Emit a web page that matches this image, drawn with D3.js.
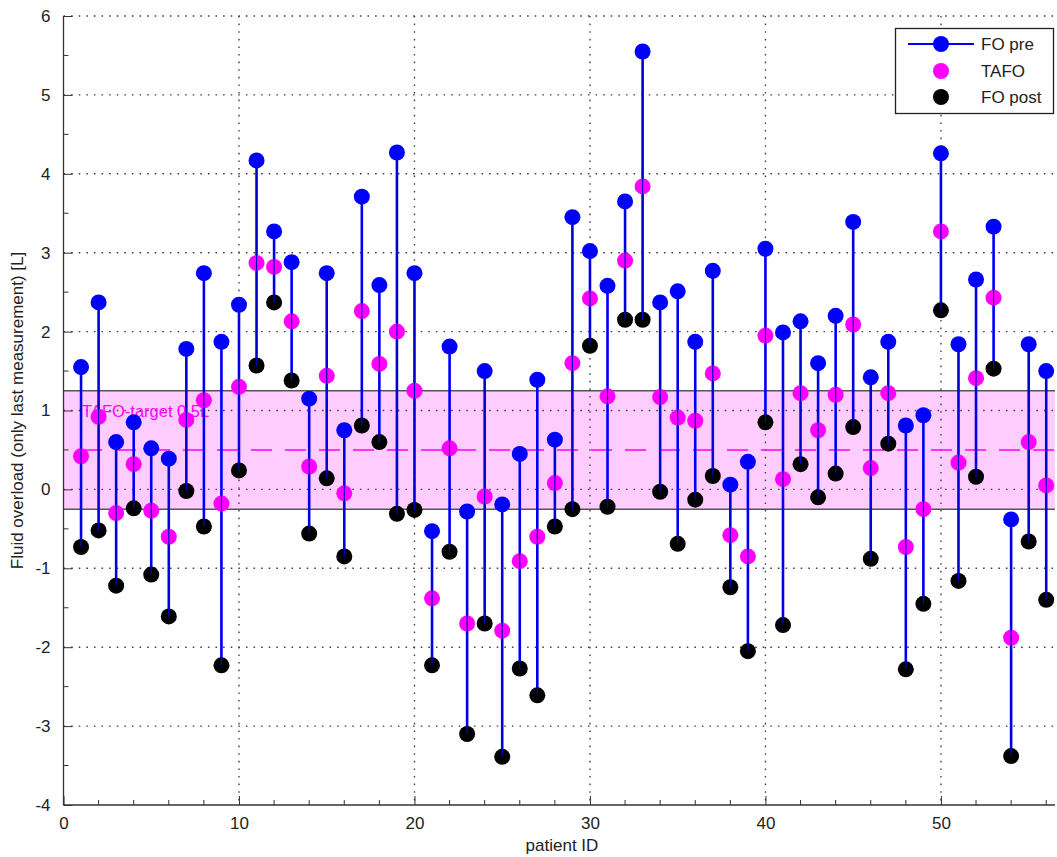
<!DOCTYPE html>
<html>
<head>
<meta charset="utf-8">
<script src="https://cdn.jsdelivr.net/npm/d3@7/dist/d3.min.js"></script>
<style>
  body { margin: 0; background: #fff; }
  svg { display: block; }
  text { font-family: "Liberation Sans", Arial, Helvetica, sans-serif; fill: #222; }
</style>
</head>
<body>
<svg id="chart" width="1057" height="857"></svg>
<script>
// Fluid overload per patient: before, at TAFO, and after treatment [L]
const patientIds = [1,2,3,4,5,6,7,8,9,10,11,12,13,14,15,16,17,18,19,20,
  21,22,23,24,25,26,27,28,29,30,31,32,33,34,35,36,37,38,39,40,
  41,42,43,44,45,46,47,48,49,50,51,52,53,54,55,56];

const foPre = [1.55,2.37,0.60,0.85,0.52,0.39,1.78,2.74,1.87,2.34,
  4.17,3.27,2.88,1.15,2.74,0.75,3.71,2.59,4.27,2.74,
  -0.53,1.81,-0.28,1.50,-0.19,0.45,1.39,0.63,3.45,3.02,
  2.58,3.65,5.55,2.37,2.51,1.87,2.77,0.06,0.35,3.05,
  1.99,2.13,1.60,2.20,3.39,1.42,1.87,0.81,0.94,4.26,
  1.84,2.66,3.33,-0.38,1.84,1.50];

const tafo = [0.42,0.92,-0.30,0.32,-0.27,-0.60,0.88,1.13,-0.18,1.30,
  2.87,2.82,2.13,0.29,1.44,-0.05,2.26,1.59,2.00,1.25,
  -1.38,0.52,-1.70,-0.09,-1.79,-0.91,-0.60,0.08,1.60,2.42,
  1.18,2.90,3.84,1.17,0.91,0.87,1.47,-0.58,-0.85,1.95,
  0.13,1.22,0.75,1.20,2.09,0.27,1.22,-0.73,-0.25,3.27,
  0.34,1.41,2.43,-1.88,0.60,0.05];

const foPost = [-0.73,-0.52,-1.22,-0.24,-1.08,-1.61,-0.02,-0.47,-2.23,0.24,
  1.57,2.37,1.38,-0.56,0.14,-0.85,0.81,0.60,-0.31,-0.26,
  -2.23,-0.79,-3.10,-1.70,-3.39,-2.27,-2.61,-0.47,-0.25,1.82,
  -0.22,2.15,2.15,-0.03,-0.69,-0.13,0.17,-1.24,-2.05,0.85,
  -1.72,0.32,-0.10,0.20,0.79,-0.88,0.58,-2.28,-1.45,2.27,
  -1.16,0.16,1.53,-3.38,-0.66,-1.40];

const xTicks = [0,10,20,30,40,50];
const xMinorTicks = [2,4,6,8,12,14,16,18,22,24,26,28,32,34,36,38,42,44,46,48,52,54,56];
const yTicks = [-4,-3,-2,-1,0,1,2,3,4,5,6];
const yMinorTicks = [-3.5,-2.5,-1.5,-0.5,0.5,1.5,2.5,3.5,4.5,5.5];

const targetLow = -0.25, targetHigh = 1.25, targetValue = 0.5;
const targetLabel = "TAFO-target 0.5L";
const seriesNames = ["FO pre", "TAFO", "FO post"];
const seriesColors = ["#0000ff", "#ff00ff", "#000000"];

const rows = patientIds.map((id, i) => ({ id, pre: foPre[i], tafo: tafo[i], post: foPost[i] }));

const svg = d3.select("#chart");
const plotLeft = 63.5, plotRight = 1055, plotTop = 16, plotBottom = 805;

const x = d3.scaleLinear().domain([0, 56.5]).range([plotLeft, plotRight]);
const y = d3.scaleLinear().domain([-4, 6]).range([plotBottom, plotTop]);

// target band
svg.append("rect")
  .attr("x", x(0)).attr("width", x(56.5) - x(0))
  .attr("y", y(targetHigh)).attr("height", y(targetLow) - y(targetHigh))
  .attr("fill", "#ffccff");

// dotted grid
const grid = svg.append("g").attr("stroke", "#444").attr("stroke-width", 1.4)
  .attr("stroke-dasharray", "1.6,6");
grid.selectAll("line.gx").data(xTicks.filter(d => d > 0)).join("line").attr("class", "gx")
  .attr("x1", d => x(d)).attr("x2", d => x(d)).attr("y1", plotTop).attr("y2", plotBottom);
grid.selectAll("line.gy").data(yTicks.filter(d => d > -4)).join("line").attr("class", "gy")
  .attr("x1", plotLeft).attr("x2", plotRight).attr("y1", d => y(d)).attr("y2", d => y(d));

// band borders
svg.append("g").attr("stroke", "#555").attr("stroke-width", 1.5)
  .selectAll("line").data([targetLow, targetHigh]).join("line")
  .attr("x1", plotLeft).attr("x2", plotRight).attr("y1", d => y(d)).attr("y2", d => y(d));

// target line
svg.append("line")
  .attr("x1", x(1)).attr("x2", plotRight)
  .attr("y1", y(targetValue)).attr("y2", y(targetValue))
  .attr("stroke", "#ff00ff").attr("stroke-width", 1.6)
  .attr("stroke-dasharray", "21,13");

svg.append("text")
  .attr("x", x(1) + 1).attr("y", y(1) + 6)
  .attr("font-size", 16.5).style("fill", "#ff00ff")
  .text(targetLabel);

// axes
const fmt = d => String(d);
const xAxis = d3.axisBottom(x).tickValues(xTicks).tickFormat(fmt).tickSize(-9).tickPadding(12);
const gx = svg.append("g").attr("transform", `translate(0,${plotBottom})`).call(xAxis);
gx.select(".domain").attr("stroke", "#333").attr("stroke-width", 1.3).attr("d", `M${plotLeft},0H${plotRight}`);
gx.selectAll(".tick line").attr("stroke", "#333");
gx.selectAll("text").attr("font-size", 17).style("fill", "#222").attr("font-family", null);
svg.append("g").selectAll("line").data(xMinorTicks).join("line")
  .attr("x1", d => x(d)).attr("x2", d => x(d)).attr("y1", plotBottom).attr("y2", plotBottom - 5)
  .attr("stroke", "#333");

const yAxis = d3.axisLeft(y).tickValues(yTicks).tickFormat(fmt).tickSize(-9).tickPadding(13);
const gy = svg.append("g").attr("transform", `translate(${plotLeft},0)`).call(yAxis);
gy.select(".domain").attr("stroke", "#333").attr("stroke-width", 1.3).attr("d", `M0,${plotTop}V${plotBottom}`);
gy.selectAll(".tick line").attr("stroke", "#333");
gy.selectAll("text").attr("font-size", 17).style("fill", "#222").attr("font-family", null);
svg.append("g").selectAll("line").data(yMinorTicks).join("line")
  .attr("x1", plotLeft).attr("x2", plotLeft + 5).attr("y1", d => y(d)).attr("y2", d => y(d))
  .attr("stroke", "#333");

// stems and markers
const r = 8;
const marks = svg.append("g");
marks.selectAll("line.stem").data(rows).join("line").attr("class", "stem")
  .attr("x1", d => x(d.id)).attr("x2", d => x(d.id))
  .attr("y1", d => y(d.pre)).attr("y2", d => y(d.post))
  .attr("stroke", "#0000ff").attr("stroke-width", 2.6);
marks.selectAll("circle.post").data(rows).join("circle").attr("class", "post")
  .attr("cx", d => x(d.id)).attr("cy", d => y(d.post)).attr("r", r).attr("fill", seriesColors[2]);
marks.selectAll("circle.tafo").data(rows).join("circle").attr("class", "tafo")
  .attr("cx", d => x(d.id)).attr("cy", d => y(d.tafo)).attr("r", r).attr("fill", seriesColors[1]);
marks.selectAll("line.thru").data(rows).join("line").attr("class", "thru")
  .attr("x1", d => x(d.id)).attr("x2", d => x(d.id))
  .attr("y1", d => y(d.pre)).attr("y2", d => y(d.post))
  .attr("stroke", "#0000cc").attr("stroke-width", 1.2);
marks.selectAll("circle.pre").data(rows).join("circle").attr("class", "pre")
  .attr("cx", d => x(d.id)).attr("cy", d => y(d.pre)).attr("r", r).attr("fill", seriesColors[0]);

// axis titles
svg.append("text")
  .attr("transform", `translate(23,${(plotTop + plotBottom) / 2}) rotate(-90)`)
  .attr("text-anchor", "middle").attr("font-size", 17)
  .text("Fluid overload (only last measurement) [L]");
svg.append("text")
  .attr("x", 562).attr("y", 851).attr("text-anchor", "middle").attr("font-size", 17)
  .text("patient ID");

// legend
const lg = svg.append("g");
lg.append("rect").attr("x", 895.5).attr("y", 28.5).attr("width", 158).attr("height", 85)
  .attr("fill", "#fff").attr("stroke", "#222").attr("stroke-width", 1.3);
const ly = [44, 71, 97];
lg.append("line").attr("x1", 908).attr("x2", 974).attr("y1", ly[0]).attr("y2", ly[0])
  .attr("stroke", "#0000ff").attr("stroke-width", 2);
seriesNames.forEach((name, i) => {
  lg.append("circle").attr("cx", 941).attr("cy", ly[i]).attr("r", r).attr("fill", seriesColors[i]);
  lg.append("text").attr("x", 981).attr("y", ly[i] + 6).attr("font-size", 17).text(name);
});
</script>
</body>
</html>
